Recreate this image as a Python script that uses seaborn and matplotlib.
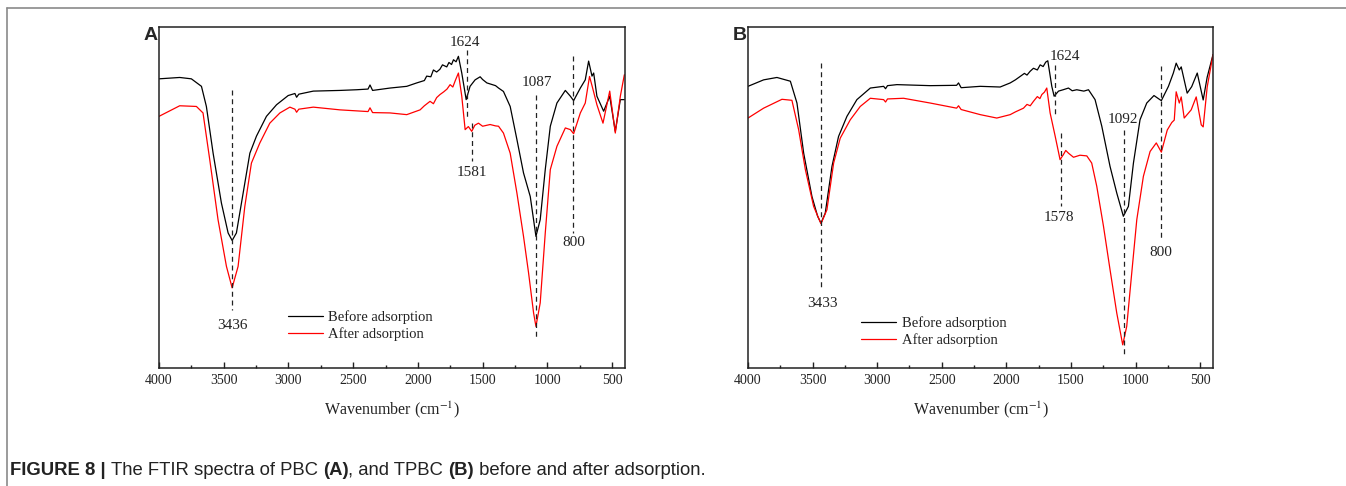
import matplotlib
matplotlib.use("Agg")
import matplotlib.pyplot as plt
from matplotlib.ticker import MultipleLocator
from matplotlib.lines import Line2D
import seaborn as sns
import pandas as pd

# ---------------- data ----------------
# Panel A (PBC)
a_before_wn = [4000, 3840, 3750, 3672, 3634, 3582, 3518, 3466, 3435, 3402, 3350, 3298, 3247, 3170,
               3092, 3002, 2950, 2937, 2920, 2808, 2602, 2473, 2385, 2370, 2350, 2215, 2086, 2009,
               1950, 1932, 1900, 1880, 1855, 1830, 1810, 1777, 1760, 1740, 1725, 1705, 1687, 1661,
               1627, 1597, 1558, 1519, 1500, 1467, 1400, 1377, 1339, 1287, 1235, 1184, 1132, 1088,
               1055, 1016, 977, 926, 861, 822, 797, 745, 707, 681, 655, 642, 617, 565, 518, 475,
               436, 405]
a_before_t = [84.8, 85.2, 84.8, 82.6, 76.7, 63.0, 48.4, 39.6, 37.4, 39.6, 51.3, 63.0, 68.0, 73.8,
              77.2, 79.9, 80.5, 79.4, 80.3, 81.2, 81.4, 81.6, 81.8, 83.0, 81.4, 82.1, 82.6, 83.6,
              84.3, 85.6, 85.4, 87.4, 86.8, 87.6, 88.9, 88.3, 89.6, 89.0, 90.4, 89.8, 91.4, 86.5,
              78.7, 82.6, 84.5, 85.4, 84.6, 83.6, 82.8, 82.1, 81.1, 76.7, 67.0, 57.2, 50.3, 38.6,
              43.5, 58.2, 70.9, 77.7, 81.4, 79.7, 78.4, 82.1, 84.5, 90.0, 85.6, 86.5, 79.7, 75.3,
              79.7, 69.4, 78.7, 78.7]
a_after_wn = [4000, 3840, 3711, 3660, 3608, 3544, 3479, 3435, 3389, 3337, 3286, 3221, 3144, 3066,
              2989, 2950, 2937, 2920, 2808, 2602, 2385, 2370, 2350, 2215, 2086, 1983, 1950, 1906,
              1880, 1855, 1829, 1800, 1775, 1751, 1730, 1710, 1687, 1661, 1635, 1610, 1584, 1560,
              1532, 1500, 1442, 1400, 1377, 1339, 1287, 1235, 1184, 1145, 1106, 1088, 1055, 1016,
              977, 926, 861, 822, 797, 745, 707, 674, 650, 617, 570, 518, 475, 436, 405]
a_after_t = [73.8, 76.9, 76.7, 74.8, 61.1, 43.5, 29.8, 23.5, 29.8, 47.4, 60.1, 66.0, 71.8, 74.8,
             76.5, 75.9, 75.0, 75.9, 76.5, 75.7, 75.2, 76.3, 74.9, 74.8, 74.3, 75.7, 76.9, 78.2,
             77.5, 79.3, 80.2, 81.0, 81.8, 83.1, 82.4, 84.4, 86.5, 79.7, 69.9, 70.8, 69.4, 71.2,
             71.8, 70.9, 71.4, 71.0, 70.9, 68.9, 63.0, 51.3, 38.6, 27.9, 16.1, 12.2, 19.1, 39.6,
             58.2, 65.0, 70.4, 69.9, 68.7, 74.8, 77.7, 85.5, 82.1, 77.2, 71.8, 81.2, 68.9, 79.7,
             86.0]

# Panel B (TPBC)
b_before_wn = [4000, 3879, 3776, 3672, 3621, 3569, 3505, 3461, 3435, 3402, 3350, 3299, 3234, 3157,
               3053, 2950, 2935, 2920, 2847, 2589, 2385, 2370, 2350, 2202, 2048, 1970, 1930, 1893,
               1860, 1840, 1816, 1790, 1760, 1738, 1715, 1695, 1679, 1648, 1630, 1596, 1560, 1519,
               1490, 1455, 1400, 1364, 1313, 1261, 1197, 1145, 1094, 1055, 1016, 965, 913, 857,
               800, 745, 707, 685, 661, 646, 600, 565, 522, 476, 445, 400]
b_before_t = [82.6, 84.5, 85.2, 84.1, 77.7, 63.0, 50.3, 44.5, 42.5, 45.4, 59.1, 67.9, 73.8, 78.7,
              82.1, 82.6, 81.9, 82.8, 83.1, 82.8, 82.9, 83.6, 82.2, 82.6, 82.4, 83.6, 84.5, 85.5,
              86.4, 85.9, 87.0, 87.9, 87.4, 88.9, 88.4, 89.7, 90.1, 82.6, 79.7, 81.2, 81.6, 82.1,
              81.3, 81.6, 81.2, 81.6, 78.7, 70.9, 59.1, 51.3, 44.5, 47.4, 60.1, 72.8, 77.7, 79.9,
              78.4, 82.6, 86.5, 89.4, 87.4, 88.3, 80.6, 82.5, 86.5, 78.6, 85.3, 91.9]
b_after_wn = [4000, 3879, 3737, 3660, 3608, 3556, 3492, 3435, 3389, 3337, 3286, 3208, 3131, 3053,
              2950, 2935, 2920, 2796, 2589, 2385, 2370, 2350, 2202, 2074, 1970, 1930, 1867, 1840,
              1815, 1790, 1760, 1740, 1725, 1705, 1687, 1661, 1622, 1584, 1558, 1540, 1519, 1480,
              1430, 1377, 1339, 1300, 1248, 1197, 1145, 1099, 1068, 1029, 990, 939, 887, 839, 800,
              754, 719, 700, 685, 661, 646, 623, 569, 530, 491, 476, 445, 400]
b_after_t = [73.3, 76.2, 78.8, 78.5, 69.9, 58.2, 47.4, 42.3, 46.4, 60.1, 67.4, 72.8, 76.7, 79.1,
             78.7, 78.0, 78.9, 79.1, 77.7, 76.2, 76.9, 75.8, 74.3, 73.3, 74.3, 75.1, 76.2, 77.3,
             76.9, 78.2, 79.6, 79.0, 80.2, 80.9, 82.1, 74.8, 68.0, 61.1, 62.6, 63.8, 63.0, 61.8,
             62.4, 62.2, 60.1, 53.3, 41.6, 28.8, 16.1, 6.8, 12.2, 27.9, 43.5, 56.2, 63.5, 66.0,
             63.3, 69.8, 72.0, 72.7, 81.0, 77.7, 79.5, 73.3, 75.7, 79.5, 71.3, 70.7, 82.4, 91.9]

series_labels = ["Before adsorption", "After adsorption"]
xticks = [4000, 3500, 3000, 2500, 2000, 1500, 1000, 500]

# peak marks: (wavenumber, dash top, dash bottom, label, label x, label y)
a_marks = [(3436, 81.6, 17.1, "3436", 3436, 12.4),
           (1624, 93.2, 73.0, "1624", 1635, 95.5),
           (1581, 71.8, 60.6, "1581", 1583, 57.4),
           (1087, 80.2, 8.8, "1087", 1081, 83.6),
           (800, 91.4, 39.6, "800", 797, 36.7)]
b_marks = [(3433, 89.4, 23.0, "3433", 3422, 18.9),
           (1624, 89.0, 74.3, "1624", 1545, 91.4),
           (1578, 68.9, 47.4, "1578", 1596, 44.2),
           (1092, 69.9, 3.9, "1092", 1099, 73.0),
           (800, 88.5, 37.1, "800", 805, 33.9)]

# ---------------- styling ----------------
sns.set_theme(style="white")
plt.rcParams["font.family"] = ["Liberation Serif", "DejaVu Serif"]
plt.rcParams["mathtext.fontset"] = "stix"

W, H = 1346, 486
fig = plt.figure(figsize=(W / 100, H / 100), dpi=100)

palette = {"Before adsorption": "black", "After adsorption": "#ff0000"}


def make_df(bw, bt, aw, at):
    return pd.concat([
        pd.DataFrame({"wn": bw, "t": bt, "sample": series_labels[0]}),
        pd.DataFrame({"wn": aw, "t": at, "sample": series_labels[1]}),
    ], ignore_index=True)


def panel(rect, df, marks, leg_xy, letter, letter_x):
    ax = fig.add_axes(rect)
    sns.lineplot(data=df, x="wn", y="t", hue="sample", palette=palette, sort=False,
                 estimator=None, ax=ax, linewidth=0.9, legend=False)
    ax.set_xlim(4000, 400)
    ax.set_ylim(0, 100)
    ax.set_yticks([])
    ax.set_ylabel("")
    ax.set_xticks(xticks)
    ax.xaxis.set_minor_locator(MultipleLocator(250))
    ax.tick_params(axis="x", which="both", direction="in", bottom=True, top=False,
                   colors="#222222", labelsize=10, pad=4)
    ax.tick_params(axis="x", which="major", length=4.5, width=1)
    ax.tick_params(axis="x", which="minor", length=2.5, width=1)
    for s in ax.spines.values():
        s.set_color("#222222")
        s.set_linewidth(1.1)
    ax.set_xlabel("Wavenumber (cm$^{-1}$)", fontsize=11.5, labelpad=9, color="#222222")
    for wn, y0, y1, lab, lx, ly in marks:
        ax.plot([wn, wn], [y0, y1], color="#222222", lw=0.9, ls=(0, (4, 3)))
        ax.text(lx, ly, lab, ha="center", va="center", fontsize=11, color="#222222")
    handles = [Line2D([], [], color=palette[k], lw=0.9) for k in series_labels]
    leg = ax.legend(handles, series_labels, loc="center left", bbox_to_anchor=leg_xy,
                    frameon=False, fontsize=10.5, handlelength=2.4, handletextpad=0.35,
                    labelspacing=0.25, borderpad=0, borderaxespad=0)
    for t in leg.get_texts():
        t.set_color("#222222")
    fig.text(letter_x / W, 1 - 35 / H, letter, fontsize=14, fontweight="bold",
             family=["Liberation Sans"], ha="left", va="center")
    return ax


axA = panel([159 / W, 1 - 368 / H, (625 - 159) / W, (368 - 27) / H],
            make_df(a_before_wn, a_before_t, a_after_wn, a_after_t),
            a_marks, (0.277, 0.124), "A", 144)
axB = panel([748 / W, 1 - 368 / H, (1213 - 748) / W, (368 - 27) / H],
            make_df(b_before_wn, b_before_t, b_after_wn, b_after_t),
            b_marks, (0.244, 0.106), "B", 733)

# outer frame (top and left rules)
fig.add_artist(Line2D([7 / W, 1], [1 - 8 / H, 1 - 8 / H], color="#8a8a8a", lw=1.2,
                      transform=fig.transFigure))
fig.add_artist(Line2D([7 / W, 7 / W], [0, 1 - 8 / H], color="#8a8a8a", lw=1.2,
                      transform=fig.transFigure))

# caption with mixed weights
cap_font = ["Liberation Sans"]
parts = [("FIGURE 8 | ", "bold"), ("The FTIR spectra of PBC ", "normal"), ("(A)", "bold"),
         (", and TPBC ", "normal"), ("(B)", "bold"), (" before and after adsorption.", "normal")]
prev = fig.text(10 / W, 1 - 470 / H, parts[0][0], fontsize=13.3, fontweight=parts[0][1],
                family=cap_font, color="#222222", va="center", ha="left")
for txt, wt in parts[1:]:
    prev = fig.text(0, 0, "") if False else plt.annotate(
        txt, xy=(1, 0), xycoords=prev, va="bottom", ha="left", fontsize=13.3,
        fontweight=wt, family=cap_font, color="#222222")

fig.savefig("out.png", dpi=100)
